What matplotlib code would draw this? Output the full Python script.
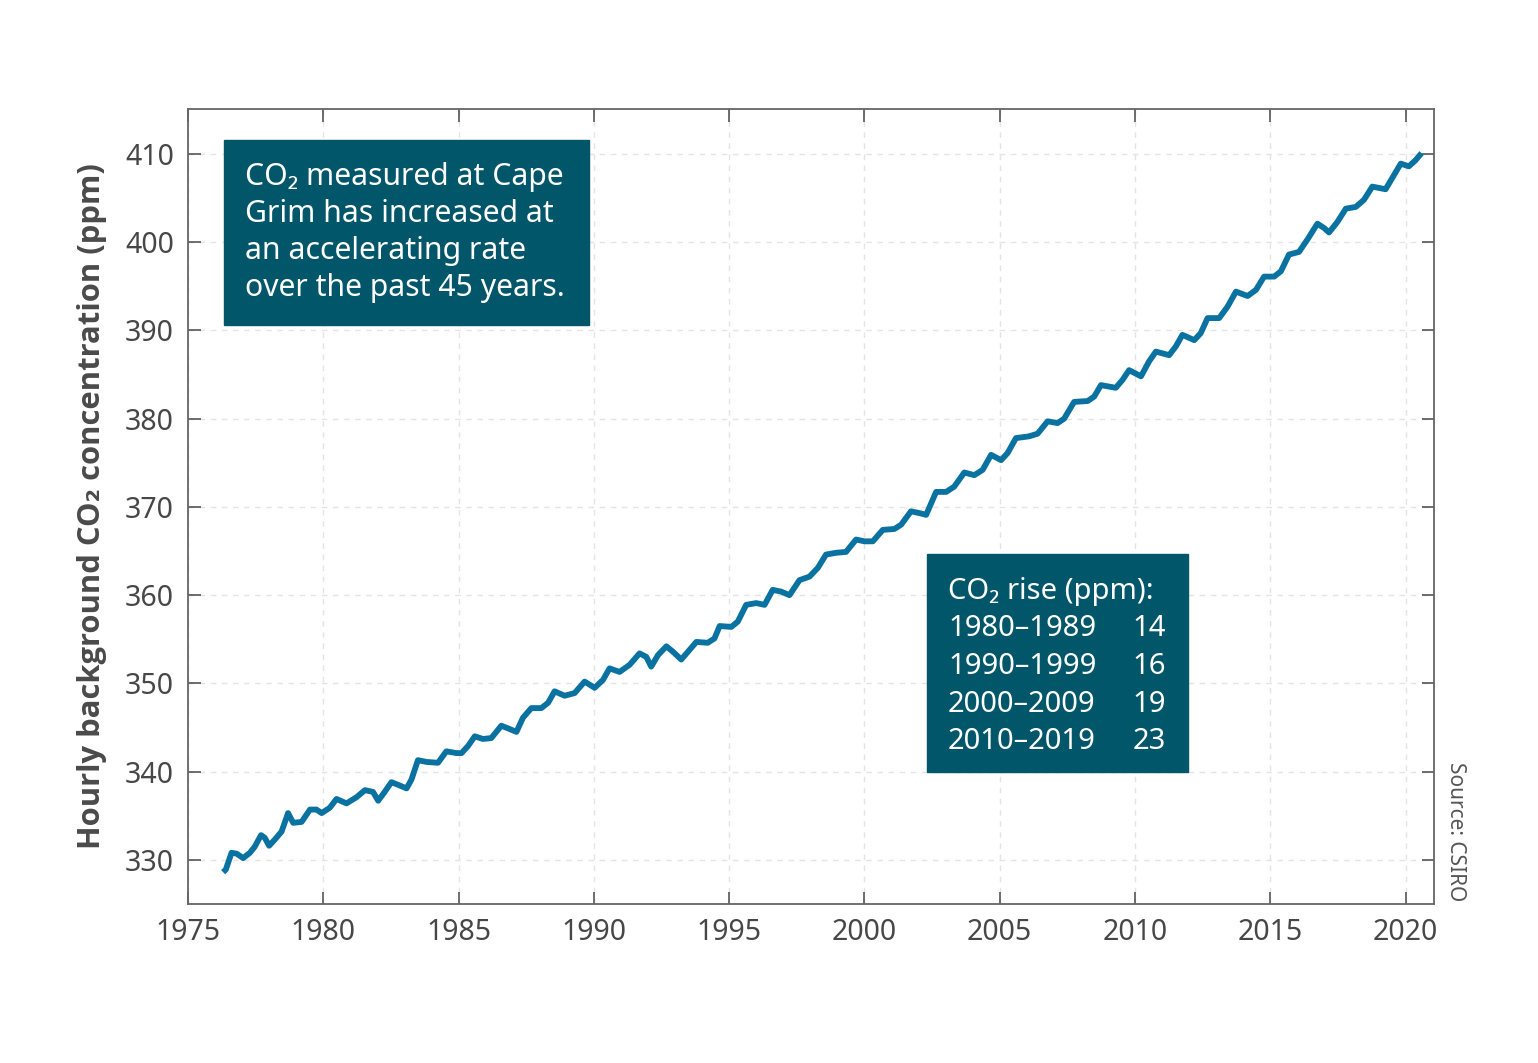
import matplotlib
matplotlib.use("Agg")
import matplotlib.pyplot as plt
from matplotlib.patches import Rectangle

plt.rcParams['font.family'] = ['Noto Sans', 'DejaVu Sans']

# values (decimal year, ppm)
years = [1976.30, 1976.40, 1976.61, 1976.80, 1977.04, 1977.29, 1977.47, 1977.70,
         1977.84, 1978.00, 1978.21, 1978.46, 1978.70, 1978.89, 1979.20, 1979.51,
         1979.75, 1979.94, 1980.24, 1980.49, 1980.86, 1981.23, 1981.54, 1981.84,
         1982.03, 1982.27, 1982.52, 1982.77, 1983.08, 1983.26, 1983.50, 1983.81,
         1984.24, 1984.55, 1984.92, 1985.11, 1985.35, 1985.60, 1985.90, 1986.21,
         1986.58, 1986.83, 1987.14, 1987.38, 1987.69, 1988.06, 1988.31, 1988.55,
         1988.92, 1989.29, 1989.66, 1990.03, 1990.34, 1990.58, 1990.95, 1991.32,
         1991.69, 1991.94, 1992.12, 1992.37, 1992.68, 1992.92, 1993.23, 1993.48,
         1993.79, 1994.21, 1994.46, 1994.65, 1995.08, 1995.32, 1995.63, 1996.00,
         1996.31, 1996.61, 1996.92, 1997.23, 1997.60, 1997.97, 1998.28, 1998.58,
         1998.95, 1999.32, 1999.69, 2000.00, 2000.31, 2000.68, 2001.11, 2001.36,
         2001.72, 2002.03, 2002.28, 2002.65, 2003.02, 2003.32, 2003.69, 2004.06,
         2004.37, 2004.68, 2005.05, 2005.29, 2005.60, 2006.09, 2006.40, 2006.77,
         2007.14, 2007.38, 2007.75, 2008.25, 2008.49, 2008.74, 2009.29, 2009.54,
         2009.78, 2010.22, 2010.52, 2010.77, 2011.26, 2011.51, 2011.75, 2012.19,
         2012.43, 2012.68, 2013.11, 2013.42, 2013.73, 2014.16, 2014.47, 2014.77,
         2015.14, 2015.39, 2015.69, 2016.06, 2016.37, 2016.74, 2016.99, 2017.17,
         2017.48, 2017.79, 2018.16, 2018.46, 2018.77, 2019.26, 2019.51, 2019.82,
         2020.12, 2020.37, 2020.59]
co2 = [328.6, 328.9, 330.8, 330.7, 330.2, 330.8, 331.5, 332.8,
       332.5, 331.6, 332.3, 333.2, 335.3, 334.2, 334.3, 335.7,
       335.7, 335.3, 335.9, 336.9, 336.4, 337.1, 337.9, 337.7,
       336.7, 337.7, 338.8, 338.5, 338.1, 339.1, 341.3, 341.1,
       341.0, 342.3, 342.1, 342.1, 342.9, 344.0, 343.7, 343.8,
       345.2, 344.9, 344.5, 346.1, 347.2, 347.2, 347.8, 349.1,
       348.6, 348.9, 350.2, 349.5, 350.4, 351.7, 351.3, 352.1,
       353.4, 353.0, 351.9, 353.2, 354.2, 353.6, 352.7, 353.6,
       354.7, 354.6, 355.1, 356.5, 356.4, 357.0, 358.9, 359.1,
       358.9, 360.6, 360.4, 360.0, 361.7, 362.1, 363.1, 364.6,
       364.8, 364.9, 366.3, 366.1, 366.1, 367.4, 367.5, 368.0,
       369.5, 369.3, 369.1, 371.7, 371.7, 372.3, 373.9, 373.6,
       374.2, 375.9, 375.3, 376.1, 377.8, 378.0, 378.3, 379.7,
       379.5, 380.0, 381.9, 382.0, 382.5, 383.8, 383.5, 384.4,
       385.5, 384.8, 386.5, 387.6, 387.2, 388.2, 389.5, 388.9,
       389.7, 391.4, 391.4, 392.7, 394.4, 393.9, 394.6, 396.1,
       396.1, 396.7, 398.6, 398.9, 400.3, 402.1, 401.6, 401.1,
       402.3, 403.8, 404.0, 404.8, 406.3, 406.0, 407.3, 408.9,
       408.6, 409.3, 410.1]

xticks = list(range(1975, 2021, 5))
yticks = list(range(330, 411, 10))

decades = ['1980–1989', '1990–1999', '2000–2009', '2010–2019']
rises = [14, 16, 19, 23]

note = ("CO\u2082 measured at Cape\nGrim has increased at\n"
        "an accelerating rate\nover the past 45 years.")

line_col = '#0a72a0'
box_col = '#02566a'
txt_col = '#474747'

fig = plt.figure(figsize=(15.38, 10.63), dpi=100)
ax = fig.add_axes([0.1222, 0.1496, 0.8102, 0.7479])

ax.plot(years, co2, color=line_col, lw=4.2, solid_joinstyle='round',
        solid_capstyle='butt', zorder=3)

ax.set_xlim(1975, 2021.05)
ax.set_ylim(325, 415.1)
ax.set_xticks(xticks)
ax.set_yticks(yticks)
ax.tick_params(direction='in', length=9, width=1.2, color='#555555',
               top=True, right=True, labelsize=20.5, labelcolor=txt_col, pad=10)
ax.grid(True, color='#e4e4e4', ls=(0, (4, 4)), lw=1)
for s in ax.spines.values():
    s.set_color('#666666')
    s.set_linewidth(1.3)

ax.set_ylabel('Hourly background CO\u2082 concentration (ppm)', fontsize=22.3,
              fontweight='bold', color='#4a4a4a', labelpad=13,
              family=['Open Sans', 'DejaVu Sans'])

# annotation box, top left
fig.patches.append(Rectangle((224 / 1538, 1 - 325 / 1063), 365 / 1538, 185 / 1063,
                             transform=fig.transFigure, color=box_col, zorder=5))
fig.text(245 / 1538, 1 - 162 / 1063, note, fontsize=21.7, color='white',
         va='top', ha='left', linespacing=1.3, zorder=6)

# decade rise box
fig.patches.append(Rectangle((927 / 1538, 1 - 772 / 1063), 261 / 1538, 218 / 1063,
                             transform=fig.transFigure, color=box_col, zorder=5))
fig.text(948 / 1538, 1 - 591 / 1063, 'CO\u2082 rise (ppm):', fontsize=21,
         color='white', va='center', ha='left', zorder=6)
for i, (d, r) in enumerate(zip(decades, rises)):
    yy = 1 - (629 + 37.5 * i) / 1063
    fig.text(948 / 1538, yy, d, fontsize=21, color='white', va='center',
             ha='left', zorder=6)
    fig.text(1166 / 1538, yy, str(r), fontsize=21, color='white', va='center',
             ha='right', zorder=6)

fig.text(1456 / 1538, 1 - 832 / 1063, 'Source: CSIRO', fontsize=15,
         color='#555555', rotation=-90, va='center', ha='center')

fig.savefig('out.png', dpi=100)
